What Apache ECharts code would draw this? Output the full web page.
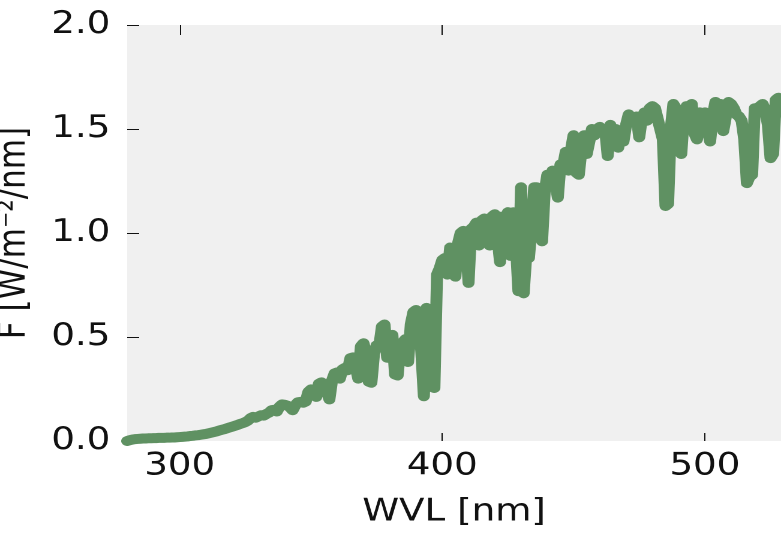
<!DOCTYPE html>
<html>
<head>
<meta charset="utf-8">
<script src="https://cdn.jsdelivr.net/npm/echarts@6/dist/echarts.min.js"></script>
<style>
  html, body { margin: 0; padding: 0; background: #ffffff; overflow: hidden; }
  /* the figure is drawn slightly narrow and widened to its final 781px width */
  #chart { width: 651px; height: 533px; transform: scaleX(1.1997); transform-origin: 0 0; }
</style>
</head>
<body>
<div id="chart"></div>
<script>
// Wavelength grid (nm), one sample per nanometre from 280 to 530
const wavelength = [];
for (let w = 280; w <= 530; w++) wavelength.push(w);

// Spectral flux F [W/m^-2/nm] at each wavelength
const flux = [
  0.000, 0.004, 0.007, 0.009, 0.010, 0.011, 0.012, 0.012, 0.013, 0.013, // 280-289
  0.014, 0.014, 0.015, 0.015, 0.015, 0.016, 0.016, 0.017, 0.017, 0.018, // 290-299
  0.019, 0.020, 0.021, 0.022, 0.024, 0.025, 0.027, 0.028, 0.030, 0.032, // 300-309
  0.034, 0.037, 0.040, 0.043, 0.046, 0.050, 0.054, 0.057, 0.061, 0.065, // 310-319
  0.069, 0.073, 0.077, 0.082, 0.086, 0.091, 0.098, 0.110, 0.116, 0.112, // 320-329
  0.118, 0.124, 0.122, 0.130, 0.136, 0.148, 0.150, 0.142, 0.165, 0.176, // 330-339
  0.174, 0.170, 0.162, 0.148, 0.172, 0.186, 0.188, 0.184, 0.190, 0.236, // 340-349
  0.248, 0.230, 0.212, 0.275, 0.282, 0.272, 0.240, 0.200, 0.290, 0.325, // 350-359
  0.330, 0.300, 0.345, 0.352, 0.340, 0.398, 0.402, 0.360, 0.300, 0.455, // 360-369
  0.470, 0.420, 0.285, 0.280, 0.420, 0.460, 0.455, 0.550, 0.560, 0.400, // 370-379
  0.500, 0.510, 0.320, 0.315, 0.450, 0.475, 0.490, 0.380, 0.560, 0.620, // 380-389
  0.630, 0.600, 0.430, 0.215, 0.640, 0.630, 0.260, 0.255, 0.800, 0.830, // 390-399
  0.870, 0.880, 0.800, 0.930, 0.920, 0.790, 0.950, 1.000, 1.010, 0.980, // 400-409
  0.760, 1.020, 1.030, 1.050, 0.940, 1.060, 1.070, 0.980, 0.940, 1.080, // 410-419
  1.090, 0.980, 0.860, 1.080, 1.070, 1.100, 0.890, 1.100, 0.950, 0.720, // 420-429
  1.220, 0.710, 0.900, 0.880, 1.030, 1.220, 1.220, 1.100, 0.960, 1.200, // 430-439
  1.280, 1.270, 1.300, 1.250, 1.170, 1.330, 1.320, 1.390, 1.300, 1.400, // 440-449
  1.470, 1.290, 1.280, 1.400, 1.470, 1.380, 1.440, 1.500, 1.470, 1.500, // 450-459
  1.510, 1.480, 1.500, 1.370, 1.520, 1.460, 1.500, 1.410, 1.480, 1.440, // 460-469
  1.520, 1.570, 1.550, 1.530, 1.560, 1.460, 1.550, 1.580, 1.540, 1.600, // 470-479
  1.610, 1.600, 1.550, 1.500, 1.450, 1.130, 1.140, 1.500, 1.620, 1.600, // 480-489
  1.450, 1.380, 1.560, 1.610, 1.600, 1.620, 1.480, 1.450, 1.580, 1.560, // 490-499
  1.580, 1.500, 1.440, 1.560, 1.630, 1.600, 1.620, 1.490, 1.560, 1.630, // 500-509
  1.620, 1.600, 1.570, 1.560, 1.540, 1.450, 1.240, 1.270, 1.280, 1.600, // 510-519
  1.580, 1.610, 1.620, 1.590, 1.520, 1.360, 1.380, 1.640, 1.650, 1.580, // 520-529
  1.600                                                                 // 530
];

// Tick positions
const xTicks = [300, 400, 500];
const yTicks = [0.0, 0.5, 1.0, 1.5, 2.0];

const points = wavelength.map((w, i) => [w, flux[i]]);

const FONT = 'DejaVu Sans';
const TEXT = '#111111';

const chart = echarts.init(document.getElementById('chart'), null, { devicePixelRatio: 2 });

chart.setOption({
  animation: false,
  backgroundColor: '#ffffff',
  grid: {
    left: 106, right: 0, top: 25, bottom: 92,
    outerBoundsMode: 'none', containLabel: false,
    show: true, backgroundColor: '#f0f0f0', borderWidth: 0
  },
  xAxis: [
    {
      type: 'value', position: 'bottom', min: 280, max: 529,
      axisLine: { show: false },
      splitLine: { show: false },
      axisTick: { show: true, inside: true, length: 8, customValues: xTicks,
                  lineStyle: { color: '#111111', width: 1 } },
      axisLabel: { show: true, customValues: xTicks, margin: 10,
                   fontFamily: FONT, fontSize: 31, color: TEXT },
      name: 'WVL [nm]', nameLocation: 'middle', nameGap: 56,
      nameTextStyle: { fontFamily: FONT, fontSize: 31, color: TEXT }
    },
    {
      type: 'value', position: 'top', min: 280, max: 529,
      axisLine: { show: false },
      splitLine: { show: false },
      axisTick: { show: true, inside: true, length: 10, customValues: xTicks,
                  lineStyle: { color: '#111111', width: 1 } },
      axisLabel: { show: false }
    }
  ],
  yAxis: {
    type: 'value', min: 0, max: 2,
    axisLine: { show: false },
    splitLine: { show: false },
    axisTick: { show: true, inside: true, length: 10, customValues: yTicks,
                lineStyle: { color: '#111111', width: 1 } },
    axisLabel: { show: true, customValues: yTicks, margin: 14,
                 fontFamily: FONT, fontSize: 31, color: TEXT,
                 formatter: v => v.toFixed(1) },
    name: 'F [W/m\u207B\u00B2/nm]',
    nameLocation: 'middle', nameGap: 78,
    nameTextStyle: { fontFamily: FONT, fontSize: 31, color: TEXT }
  },
  series: [{
    type: 'line',
    xAxisIndex: 0,
    data: points,
    showSymbol: false,
    smooth: false,
    lineStyle: { color: '#5f9162', width: 10, cap: 'round', join: 'round' },
    clip: true
  }]
});
</script>
</body>
</html>
